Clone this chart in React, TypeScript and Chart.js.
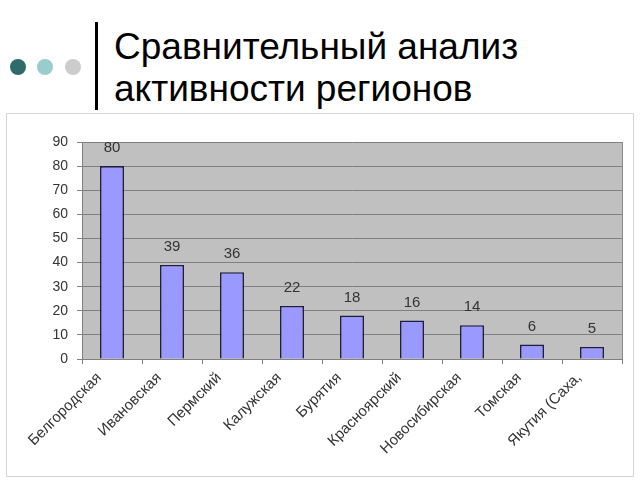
import React, { useEffect, useRef } from "react";
import { Chart, registerables } from "chart.js";

Chart.register(...registerables);

const titleLines = ["Сравнительный анализ", "активности регионов"];
const regions = [
  "Белгородская",
  "Ивановская",
  "Пермский",
  "Калужская",
  "Бурятия",
  "Красноярский",
  "Новосибирская",
  "Томская",
  "Якутия (Саха,",
];
const values = [80, 39, 36, 22, 18, 16, 14, 6, 5];
const yMin = 0;
const yMax = 90;
const yStep = 10;

const plotBgPlugin = {
  id: "plotBg",
  beforeDraw(chart: any) {
    const { ctx, chartArea } = chart;
    if (!chartArea) return;
    ctx.save();
    ctx.fillStyle = "#C0C0C0";
    ctx.fillRect(chartArea.left, chartArea.top, chartArea.right - chartArea.left, chartArea.bottom - chartArea.top);
    ctx.restore();
  },
  afterDraw(chart: any) {
    const { ctx, chartArea } = chart;
    ctx.save();
    ctx.strokeStyle = "#8a8a8a";
    ctx.lineWidth = 1;
    ctx.beginPath();
    ctx.moveTo(Math.round(chartArea.right) + 0.5, chartArea.top);
    ctx.lineTo(Math.round(chartArea.right) + 0.5, chartArea.bottom);
    ctx.stroke();
    ctx.restore();
  },
};

const valueLabelPlugin = {
  id: "valueLabels",
  afterDatasetsDraw(chart: any) {
    const { ctx } = chart;
    const meta = chart.getDatasetMeta(0);
    ctx.save();
    ctx.fillStyle = "#333333";
    ctx.font = "15px 'Liberation Sans', Arial, sans-serif";
    ctx.textAlign = "center";
    ctx.textBaseline = "middle";
    meta.data.forEach((bar: any, i: number) => {
      ctx.fillText(String(chart.data.datasets[0].data[i]), bar.x, bar.y - 18);
    });
    ctx.restore();
  },
};

function BarChart() {
  const ref = useRef<HTMLCanvasElement | null>(null);
  useEffect(() => {
    if (!ref.current) return;
    const chart = new Chart(ref.current, {
      type: "bar",
      data: {
        labels: regions,
        datasets: [
          {
            data: values,
            backgroundColor: "#9999FF",
            borderColor: "#1e1e40",
            borderWidth: 1.6,
            barPercentage: 0.4,
            categoryPercentage: 1,
          },
        ],
      },
      options: {
        responsive: false,
        animation: false,
        devicePixelRatio: 1,
        layout: { padding: { left: 0, right: 18, top: 142, bottom: 21 } },
        plugins: {
          legend: { display: false },
          tooltip: { enabled: false },
          title: { display: false },
        },
        scales: {
          x: {
            afterFit: (s: any) => {
              s.height = 100;
            },
            grid: {
              drawOnChartArea: false,
              drawTicks: true,
              tickLength: 5,
              color: "#808080",
              offset: true,
            },
            border: { display: true, color: "#808080", width: 1 },
            ticks: {
              autoSkip: false,
              maxRotation: 45,
              minRotation: 45,
              padding: 5,
              labelOffset: -13,
              color: "#333333",
              font: { family: "'Liberation Sans', Arial, sans-serif", size: 15 },
            },
          },
          y: {
            min: yMin,
            max: yMax,
            afterFit: (s: any) => {
              s.width = 82;
            },
            grid: {
              color: "#808080",
              drawTicks: true,
              tickLength: 5,
            },
            border: { display: true, color: "#808080", width: 1 },
            ticks: {
              stepSize: yStep,
              padding: 9,
              color: "#333333",
              font: { family: "'Liberation Sans', Arial, sans-serif", size: 14 },
            },
          },
        },
      },
      plugins: [plotBgPlugin, valueLabelPlugin],
    });
    return () => chart.destroy();
  }, []);
  return (
    <canvas
      ref={ref}
      width={640}
      height={480}
      style={{ position: "absolute", left: 0, top: 0, width: 640, height: 480 }}
    />
  );
}

export default function App() {
  const dotColors = ["#2F6B6B", "#99CCCC", "#CCCCCC"];
  const dotX = [18, 45, 73];
  return (
    <div
      style={{
        position: "fixed",
        left: 0,
        top: 0,
        width: 640,
        height: 480,
        background: "#ffffff",
        overflow: "hidden",
        fontFamily: "'Liberation Sans', Arial, sans-serif",
      }}
    >
      {dotColors.map((c, i) => (
        <div
          key={i}
          style={{
            position: "absolute",
            left: dotX[i] - 8,
            top: 67 - 8,
            width: 16,
            height: 16,
            borderRadius: "50%",
            background: c,
          }}
        />
      ))}
      <div
        style={{
          position: "absolute",
          left: 95,
          top: 22,
          width: 3,
          height: 88,
          background: "#000000",
        }}
      />
      <div
        style={{
          position: "absolute",
          left: 114,
          top: 26,
          fontSize: 37,
          lineHeight: "42px",
          color: "#000000",
          whiteSpace: "nowrap",
        }}
      >
        {titleLines.map((t, i) => (
          <div key={i}>{t}</div>
        ))}
      </div>
      <div
        style={{
          position: "absolute",
          left: 6,
          top: 113,
          width: 626,
          height: 362,
          border: "1px solid #D4D4D4",
        }}
      />
      <BarChart />
    </div>
  );
}
